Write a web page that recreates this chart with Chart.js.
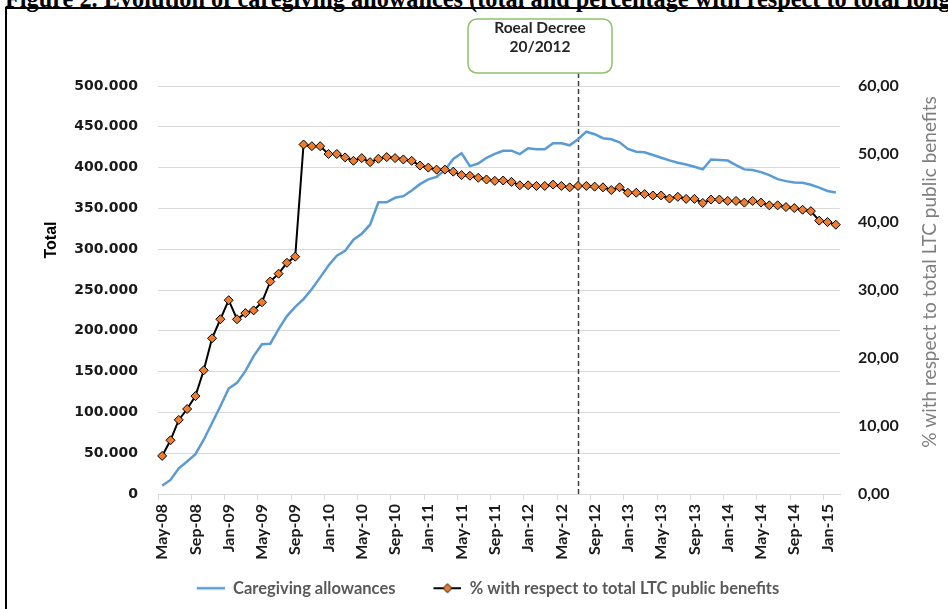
<!DOCTYPE html>
<html>
<head>
<meta charset="utf-8">
<script src="https://cdn.jsdelivr.net/npm/chart.js@4.4.1/dist/chart.umd.min.js"></script>
<style>
  html, body { margin: 0; padding: 0; background: #fff; }
  #wrap { position: relative; width: 948px; height: 609px; overflow: hidden; }
  #title { position: absolute; left: 5px; top: -15.5px; font: bold 24.3px "Liberation Serif", serif; white-space: nowrap; color: #000; }
  #frame { position: absolute; left: 5px; top: 7px; width: 1000px; height: 700px; border: 2px solid #000; box-sizing: border-box; }
  #chart { position: absolute; left: 0; top: 0; }
</style>
</head>
<body>
<div id="wrap">
  <div id="title">Figure 2. Evolution of caregiving allowances (total and percentage with respect to total long-term care public benefits)</div>
  <div id="frame"></div>
  <canvas id="chart" width="948" height="609"></canvas>
</div>
<script>
const months = [
  'May-08', 'Jun-08', 'Jul-08', 'Aug-08', 'Sep-08', 'Oct-08', 'Nov-08', 'Dec-08',
  'Jan-09', 'Feb-09', 'Mar-09', 'Apr-09', 'May-09', 'Jun-09', 'Jul-09', 'Aug-09', 'Sep-09', 'Oct-09', 'Nov-09', 'Dec-09',
  'Jan-10', 'Feb-10', 'Mar-10', 'Apr-10', 'May-10', 'Jun-10', 'Jul-10', 'Aug-10', 'Sep-10', 'Oct-10', 'Nov-10', 'Dec-10',
  'Jan-11', 'Feb-11', 'Mar-11', 'Apr-11', 'May-11', 'Jun-11', 'Jul-11', 'Aug-11', 'Sep-11', 'Oct-11', 'Nov-11', 'Dec-11',
  'Jan-12', 'Feb-12', 'Mar-12', 'Apr-12', 'May-12', 'Jun-12', 'Jul-12', 'Aug-12', 'Sep-12', 'Oct-12', 'Nov-12', 'Dec-12',
  'Jan-13', 'Feb-13', 'Mar-13', 'Apr-13', 'May-13', 'Jun-13', 'Jul-13', 'Aug-13', 'Sep-13', 'Oct-13', 'Nov-13', 'Dec-13',
  'Jan-14', 'Feb-14', 'Mar-14', 'Apr-14', 'May-14', 'Jun-14', 'Jul-14', 'Aug-14', 'Sep-14', 'Oct-14', 'Nov-14', 'Dec-14',
  'Jan-15', 'Feb-15'
];

// caregiving allowances (total)
const caregivingTotal = [
  10200, 17200, 31500, 39800, 48800, 66500, 87000, 107500, 129300, 136200,
  150600, 169000, 183500, 184200, 202000, 218000, 229400, 238900, 251200, 265500,
  280000, 292000, 298000, 311600, 319000, 330000, 357500, 357500, 363000, 365000,
  372000, 379700, 385500, 388700, 397000, 410500, 417500, 401800, 405000, 412000,
  416800, 420700, 420700, 416600, 423600, 422400, 422400, 429800, 429800, 427300,
  434700, 444000, 440900, 436000, 434700, 431000, 422800, 419500, 418700, 415400,
  412000, 408800, 406000, 403700, 401000, 398000, 410000, 409200, 408600, 403000,
  397800, 397000, 394500, 390800, 385800, 383400, 381800, 381300, 379000, 375400,
  371400, 369500
];

// % with respect to total LTC public benefits
const pctLtcBenefits = [
  5.6, 7.9, 10.9, 12.5, 14.4, 18.2, 22.9, 25.7, 28.5, 25.7,
  26.6, 27.0, 28.2, 31.25, 32.4, 34.0, 34.9, 51.4, 51.15, 51.15,
  50.0, 50.0, 49.5, 49.0, 49.4, 48.8, 49.3, 49.55, 49.4, 49.2,
  49.0, 48.3, 48.0, 47.7, 47.7, 47.4, 46.9, 46.8, 46.5, 46.25,
  46.05, 46.1, 45.9, 45.4, 45.4, 45.3, 45.3, 45.5, 45.3, 45.1,
  45.3, 45.3, 45.2, 45.1, 44.7, 45.1, 44.3, 44.3, 44.1, 43.9,
  43.9, 43.45, 43.7, 43.4, 43.4, 42.8, 43.3, 43.3, 43.1, 43.1,
  42.85, 43.1, 42.85, 42.45, 42.45, 42.2, 42.05, 41.8, 41.6, 40.2,
  40.0, 39.6
];

const seriesNames = ['Caregiving allowances', '% with respect to total LTC public benefits'];
const leftTitle = 'Total';
const rightTitle = '% with respect to total LTC public benefits';
const decreeMonth = 'Jul-12';
const decreeText = ['Roeal Decree', '20/2012'];

// legend samples (56 wide, sample drawn in the right half so items get a wider gap)
function legendSample(withDiamond) {
  const c = document.createElement('canvas');
  c.width = 56; c.height = 12;
  const g = c.getContext('2d');
  g.strokeStyle = withDiamond ? '#000' : '#5B9BD5';
  g.lineWidth = withDiamond ? 2 : 2.5;
  g.beginPath(); g.moveTo(28, 6); g.lineTo(56, 6); g.stroke();
  if (withDiamond) {
    g.fillStyle = '#ED7D31';
    g.lineWidth = 1;
    g.beginPath();
    g.moveTo(42, 1.5); g.lineTo(46.5, 6); g.lineTo(42, 10.5); g.lineTo(37.5, 6); g.closePath();
    g.fill(); g.stroke();
  }
  return c;
}
const samples = [legendSample(false), legendSample(true)];

const overlay = {
  id: 'overlay',
  beforeDatasetsDraw(chart) {
    const { ctx, chartArea, scales } = chart;
    const lx = Math.round(scales.x.getPixelForValue(months.indexOf(decreeMonth))) + 0.5;
    ctx.save();
    ctx.strokeStyle = '#404040';
    ctx.lineWidth = 1.5;
    ctx.setLineDash([5, 3]);
    ctx.beginPath();
    ctx.moveTo(lx, 73);
    ctx.lineTo(lx, chartArea.bottom);
    ctx.stroke();
    ctx.restore();
  },
  afterDraw(chart) {
    const { ctx, scales } = chart;
    const lx = scales.x.getPixelForValue(months.indexOf(decreeMonth));
    ctx.save();
    // decree box
    const bx = lx - 110, by = 19, bw = 144, bh = 54;
    ctx.fillStyle = '#fff';
    ctx.strokeStyle = '#8DC26B';
    ctx.lineWidth = 1.5;
    ctx.beginPath();
    ctx.roundRect(bx, by, bw, bh, 9);
    ctx.fill();
    ctx.stroke();
    ctx.fillStyle = '#262626';
    ctx.font = 'bold 15.5px Lato';
    ctx.textAlign = 'center';
    ctx.textBaseline = 'middle';
    ctx.fillText(decreeText[0], bx + bw / 2, by + 9);
    ctx.fillText(decreeText[1], bx + bw / 2, by + 28);

    // axis titles
    ctx.save();
    ctx.translate(52, 240);
    ctx.rotate(-Math.PI / 2);
    ctx.font = 'bold 16px "Liberation Sans"';
    ctx.fillStyle = '#000';
    ctx.fillText(leftTitle, 0, 0);
    ctx.restore();

    ctx.save();
    ctx.translate(930, 272);
    ctx.rotate(-Math.PI / 2);
    ctx.font = '19px Lato';
    ctx.fillStyle = '#7f7f7f';
    ctx.fillText(rightTitle, 0, 0);
    ctx.restore();
    ctx.restore();
  }
};

new Chart(document.getElementById('chart'), {
  type: 'line',
  data: {
    labels: months,
    datasets: [
      {
        label: seriesNames[0],
        data: caregivingTotal,
        yAxisID: 'y',
        borderColor: '#5B9BD5',
        borderWidth: 2.5,
        pointRadius: 0,
        tension: 0,
        order: 2
      },
      {
        label: seriesNames[1],
        data: pctLtcBenefits,
        yAxisID: 'y1',
        borderColor: '#000',
        borderWidth: 2,
        pointStyle: 'rectRot',
        pointRadius: 4.5,
        pointBackgroundColor: '#ED7D31',
        pointBorderColor: '#000',
        pointBorderWidth: 1,
        tension: 0,
        order: 1
      }
    ]
  },
  options: {
    responsive: false,
    animation: false,
    layout: { padding: { top: 86, left: 0, right: 0, bottom: 2.5 } },
    plugins: {
      tooltip: { enabled: false },
      legend: {
        position: 'bottom',
        labels: {
          usePointStyle: true,
          pointStyleWidth: 56,
          padding: 10,
          color: '#595959',
          font: { family: 'Lato', size: 16.5, weight: 'bold' },
          sort: (a, b) => a.datasetIndex - b.datasetIndex,
          generateLabels(chart) {
            const items = Chart.defaults.plugins.legend.labels.generateLabels(chart);
            items.forEach(it => { it.pointStyle = samples[it.datasetIndex]; });
            return items;
          }
        }
      }
    },
    scales: {
      x: {
        offset: true,
        grid: {
          offset: true,
          drawOnChartArea: false,
          tickLength: 6,
          color: c => (c.index % 4 === 0 ? '#d9d9d9' : 'rgba(0,0,0,0)')
        },
        border: { color: '#d9d9d9', width: 1 },
        ticks: {
          autoSkip: false,
          minRotation: 90,
          maxRotation: 90,
          padding: 4,
          color: '#1a1a1a',
          font: { family: 'Lato', size: 16, weight: 'bold' },
          callback: function (v, i) { return i % 4 === 0 ? this.getLabelForValue(v) : ''; }
        },
        afterFit: s => { s.height = 76; }
      },
      y: {
        position: 'left',
        min: 0,
        max: 500000,
        ticks: {
          stepSize: 50000,
          padding: 20,
          color: '#1a1a1a',
          font: { family: 'DejaVu Sans', size: 14, weight: 'bold' },
          callback: v => v.toLocaleString('de-DE')
        },
        grid: { color: '#d9d9d9', lineWidth: 1, drawTicks: false },
        border: { display: false },
        afterFit: s => { s.width = 158; }
      },
      y1: {
        position: 'right',
        min: 0,
        max: 60,
        ticks: {
          stepSize: 10,
          padding: 18,
          color: '#1a1a1a',
          font: { family: 'Lato', size: 16, weight: 'bold' },
          callback: v => v.toFixed(2).replace('.', ',')
        },
        grid: { drawOnChartArea: false, drawTicks: false },
        border: { display: false },
        afterFit: s => { s.width = 108; }
      }
    }
  },
  plugins: [overlay]
});
</script>
</body>
</html>
